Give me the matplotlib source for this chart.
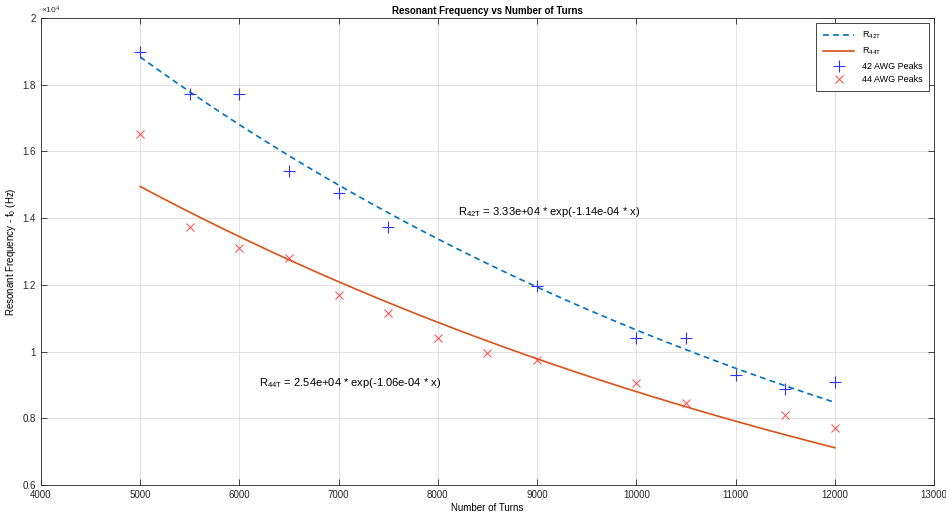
import numpy as np
import matplotlib.pyplot as plt
from matplotlib.ticker import FuncFormatter

turns_42 = [5000, 5500, 6000, 6500, 7000, 7500, 9000, 10000, 10500, 11000, 11500, 12000]
peaks_42 = [18980, 17720, 17720, 15410, 14750, 13730, 11960, 10400, 10400, 9290, 8870, 9080]

turns_44 = [5000, 5500, 6000, 6500, 7000, 7500, 8000, 8500, 9000, 10000, 10500, 11500, 12000]
peaks_44 = [16520, 13730, 13100, 12800, 11690, 11150, 10400, 9950, 9740, 9050, 8450, 8090, 7700]

# fit coefficients as printed on the chart
a42, b42 = 3.33e4, -1.14e-4
a44, b44 = 2.54e4, -1.06e-4


def main():
    plt.rcParams['font.family'] = ['Liberation Sans', 'DejaVu Sans']
    plt.rcParams['mathtext.default'] = 'regular'
    fig = plt.figure(figsize=(9.46, 5.16), dpi=100)
    ax = fig.add_axes([0.0433, 0.060, 0.9440, 0.905])

    x_fit = np.linspace(5000, 12000, 200)
    ax.plot(x_fit, a42 * np.exp(b42 * x_fit), color='#0072BD', linestyle=(0, (3.5, 2.5)),
            linewidth=1.2, label=r'R$_{42T}$')
    ax.plot(x_fit, a44 * np.exp(b44 * x_fit), color='#D95319', linewidth=1.2, label=r'R$_{44T}$')
    ax.plot(turns_42, peaks_42, '+', color='#3333ff', markersize=9, markeredgewidth=0.8,
            label='42 AWG Peaks')
    ax.plot(turns_44, peaks_44, 'x', color='#ff4444', markersize=6, markeredgewidth=0.7,
            label='44 AWG Peaks')

    ax.set_xlim(4000, 13000)
    ax.set_ylim(6000, 20000)
    ax.set_xticks(np.arange(4000, 13001, 1000))
    ax.set_yticks(np.arange(6000, 20001, 2000))
    ax.yaxis.set_major_formatter(FuncFormatter(lambda v, p: f'{v / 1e4:g}'))
    ax.tick_params(direction='in', labelsize=7, colors='#262626', length=4,
                   top=True, right=True, width=0.6)
    for s in ax.spines.values():
        s.set_color('#262626')
        s.set_linewidth(0.6)
    ax.grid(True, color='#dcdcdc', linewidth=0.6)
    ax.set_axisbelow(True)

    ax.text(0.0, 1.005, r'$\times10^{4}$', transform=ax.transAxes, fontsize=6,
            ha='left', va='bottom', color='#262626')
    ax.set_title('Resonant Frequency vs Number of Turns', fontsize=7, fontweight='bold', pad=3)
    ax.set_xlabel('Number of Turns', fontsize=7, labelpad=2)
    ax.set_ylabel(r'Resonant Frequency - f$_0$ (Hz)', fontsize=7, labelpad=3)

    ax.text(8200, 14200, r'R$_{42T}$ = 3.33e+04 * exp(-1.14e-04 * x)', fontsize=8, va='center')
    ax.text(6200, 9050, r'R$_{44T}$ = 2.54e+04 * exp(-1.06e-04 * x)', fontsize=8, va='center')

    leg = ax.legend(loc='upper right', fontsize=6.5, frameon=True, fancybox=False,
                    edgecolor='#262626', framealpha=1, borderaxespad=0.6, handlelength=3.5,
                    borderpad=0.7)
    leg.get_frame().set_linewidth(0.6)

    fig.savefig('out.png', dpi=100)
    plt.close(fig)


if __name__ == "__main__":
    main()
